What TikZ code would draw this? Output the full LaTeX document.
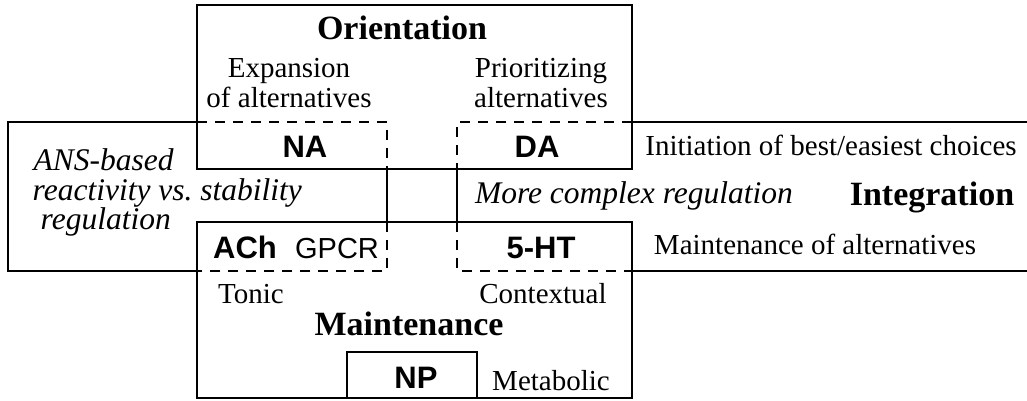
\documentclass[tikz,border=0pt]{standalone}
\usepackage{fontspec}
\setmainfont{Liberation Serif}
\setsansfont{Liberation Sans}
\begin{document}
\begin{tikzpicture}[x=1pt, y=-1pt, line width=1.4pt,
		every node/.style={inner sep=0pt, anchor=base},
		heading/.style={font=\fontsize{34}{36}\selectfont\bfseries},
		plain/.style={font=\fontsize{29}{30}\selectfont},
		slant/.style={font=\fontsize{31.5}{30}\selectfont\itshape},
		chem/.style={font=\fontsize{31}{32}\selectfont\sffamily\bfseries},
		receptor/.style={font=\fontsize{29}{30}\selectfont\sffamily},
		overlap/.style={dash pattern=on 10pt off 8pt}]
		\useasboundingbox (0,0) rectangle (1027,400);
		\coordinate (orientNW) at (197,5);
		\coordinate (orientSE) at (632,169);
		\coordinate (maintNW) at (197,222);
		\coordinate (maintSE) at (632,398);
		\coordinate (npNW) at (347,352);
		\coordinate (npSE) at (477,398);
		\coordinate (integNW) at (8,122);
		\coordinate (integSW) at (8,271);
		\coordinate (integNE) at (1027,122);
		\coordinate (integSE) at (1027,271);
		\coordinate (leftN) at (197,122);
		\coordinate (leftS) at (197,271);
		\coordinate (rightN) at (632,122);
		\coordinate (rightS) at (632,271);
		\coordinate (naNE) at (387,122);
		\coordinate (naSE) at (387,169);
		\coordinate (achNE) at (387,222);
		\coordinate (achSE) at (387,271);
		\coordinate (daNW) at (457,122);
		\coordinate (daSW) at (457,169);
		\coordinate (htNW) at (457,222);
		\coordinate (htSW) at (457,271);
		\draw (orientNW) rectangle (orientSE);
		\draw (maintNW) rectangle (maintSE);
		\draw (npNW) rectangle (npSE);
		\draw (leftN) -- (integNW) -- (integSW) -- (leftS);
		\draw (rightN) -- (integNE);
		\draw (rightS) -- (integSE);
		\draw[overlap] (leftN) -- (naNE) -- (naSE);
		\draw[overlap] (achNE) -- (achSE) -- (leftS);
		\draw[overlap] (rightN) -- (daNW) -- (daSW);
		\draw[overlap] (htNW) -- (htSW) -- (rightS);
		\draw (naSE) -- (achNE);
		\draw (daSW) -- (htNW);
		\node[heading] (orient) at (402,39) {Orientation};
		\node[plain, align=center] (expan) at (289,107) {Expansion\\of alternatives};
		\node[plain, align=center] (prior) at (541,107) {Prioritizing\\alternatives};
		\node[chem] (na) at (305,157) {NA};
		\node[chem] (da) at (537,157) {DA};
		\node[plain] (init) at (831,155) {Initiation of best/easiest choices};
		\node[slant, anchor=base west] (ans) at (33,170) {ANS-based};
		\node[slant, anchor=base west] (react) at (32,200) {reactivity vs.\ stability};
		\node[slant, anchor=base west] (reg) at (40,229) {regulation};
		\node[slant] (complex) at (634,203) {More complex regulation};
		\node[heading] (integ) at (932,205) {Integration};
		\node[chem] (ach) at (245,258) {ACh};
		\node[receptor] (gpcr) at (337,258) {GPCR};
		\node[chem] (ht) at (541,258) {5-HT};
		\node[plain] (keep) at (815,254) {Maintenance of alternatives};
		\node[plain] (tonic) at (251,303) {Tonic};
		\node[plain] (context) at (543,303) {Contextual};
		\node[heading] (maint) at (409,335) {Maintenance};
		\node[chem] (np) at (416,388) {NP};
		\node[plain] (metab) at (551,390) {Metabolic};
\end{tikzpicture}
\end{document}
